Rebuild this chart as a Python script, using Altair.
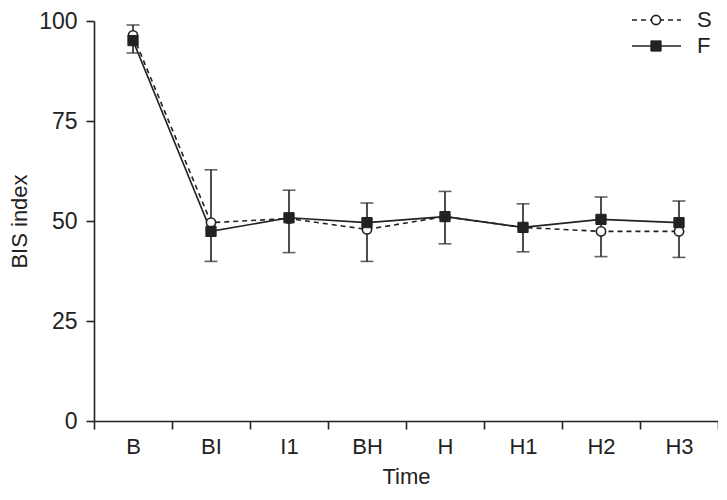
import altair as alt
import pandas as pd

times = ["B", "BI", "I1", "BH", "H", "H1", "H2", "H3"]
s_vals = [96.4, 49.6, 50.6, 47.9, 51.1, 48.4, 47.4, 47.4]
f_vals = [95.1, 47.4, 50.8, 49.6, 51.1, 48.4, 50.4, 49.6]
err_hi = [99.0, 62.8, 57.7, 54.5, 57.4, 54.3, 56.0, 55.0]
err_lo = [92.0, 39.9, 42.1, 39.9, 44.3, 42.3, 41.1, 40.9]

FONT = "Liberation Sans"
INK = "#222222"

s_df = pd.DataFrame({"time": times, "val": s_vals})
f_df = pd.DataFrame({"time": times, "val": f_vals})
e_df = pd.DataFrame({"time": times, "hi": err_hi, "lo": err_lo})

xenc = alt.X(
    "time:N",
    sort=times,
    scale=alt.Scale(type="band", paddingInner=0, paddingOuter=0),
    axis=alt.Axis(
        title="Time", tickBand="extent", labelAngle=0, tickSize=8,
        labelPadding=7, titlePadding=9, labelFontSize=22,
    ),
)
yscale = alt.Scale(domain=[0, 100], nice=False)
yaxis = alt.Axis(
    title="BIS index", values=[0, 25, 50, 75, 100], tickSize=8,
    labelPadding=9, titlePadding=7, grid=False, labelFontSize=23,
)

err_rule = alt.Chart(e_df).mark_rule(color=INK, strokeWidth=1.6).encode(
    x=xenc, y=alt.Y("lo:Q", scale=yscale, axis=yaxis), y2="hi:Q"
)
cap_hi = alt.Chart(e_df).mark_tick(color=INK, size=13, thickness=1.6).encode(
    x=xenc, y=alt.Y("hi:Q", scale=yscale)
)
cap_lo = alt.Chart(e_df).mark_tick(color=INK, size=13, thickness=1.6).encode(
    x=xenc, y=alt.Y("lo:Q", scale=yscale)
)

s_line = alt.Chart(s_df).mark_line(color=INK, strokeWidth=1.6, strokeDash=[5, 4]).encode(
    x=xenc, y=alt.Y("val:Q", scale=yscale)
)
f_line = alt.Chart(f_df).mark_line(color=INK, strokeWidth=1.6).encode(
    x=xenc, y=alt.Y("val:Q", scale=yscale)
)
s_pts = alt.Chart(s_df).mark_point(
    shape="circle", size=85, filled=True, fill="white", stroke=INK, strokeWidth=1.6, opacity=1
).encode(x=xenc, y=alt.Y("val:Q", scale=yscale))
f_pts = alt.Chart(f_df).mark_point(
    shape="square", size=105, filled=True, fill=INK, stroke=INK, strokeWidth=1, opacity=1
).encode(x=xenc, y=alt.Y("val:Q", scale=yscale))

# legend (drawn in pixel space, top-right corner)
one = pd.DataFrame({"k": [0]})
LS_Y, LF_Y = -1, 25
LX0, LX1, LXP, LXT = 538, 587, 562, 603
leg_s_line = alt.Chart(one).mark_rule(color=INK, strokeWidth=1.6, strokeDash=[5, 4]).encode(
    x=alt.value(LX0), x2=alt.value(LX1), y=alt.value(LS_Y)
)
leg_s_pt = alt.Chart(one).mark_point(
    shape="circle", size=85, filled=True, fill="white", stroke=INK, strokeWidth=1.6, opacity=1
).encode(x=alt.value(LXP), y=alt.value(LS_Y))
leg_s_txt = alt.Chart(one).mark_text(
    text="S", font=FONT, fontSize=22, align="left", baseline="middle", color=INK
).encode(x=alt.value(LXT), y=alt.value(LS_Y))
leg_f_line = alt.Chart(one).mark_rule(color=INK, strokeWidth=1.6).encode(
    x=alt.value(LX0), x2=alt.value(LX1), y=alt.value(LF_Y)
)
leg_f_pt = alt.Chart(one).mark_point(
    shape="square", size=105, filled=True, fill=INK, stroke=INK, strokeWidth=1, opacity=1
).encode(x=alt.value(LXP), y=alt.value(LF_Y))
leg_f_txt = alt.Chart(one).mark_text(
    text="F", font=FONT, fontSize=22, align="left", baseline="middle", color=INK
).encode(x=alt.value(LXT), y=alt.value(LF_Y))

chart = alt.layer(
    err_rule, cap_hi, cap_lo, s_line, f_line, s_pts, f_pts,
    leg_s_line, leg_s_pt, leg_s_txt, leg_f_line, leg_f_pt, leg_f_txt,
).properties(
    width=624, height=400,
    autosize=alt.AutoSizeParams(type="none"),
    padding={"left": 86, "top": 13, "right": 0, "bottom": 66},
).configure_view(
    stroke=None
).configure_axis(
    labelFont=FONT, titleFont=FONT, titleFontSize=22,
    labelColor=INK, titleColor=INK, domainColor=INK, tickColor=INK,
    domainWidth=1.6, tickWidth=1.6, titleFontWeight="normal", grid=False,
)

chart.save("out.html", embed_options={"renderer": "svg", "actions": False})
